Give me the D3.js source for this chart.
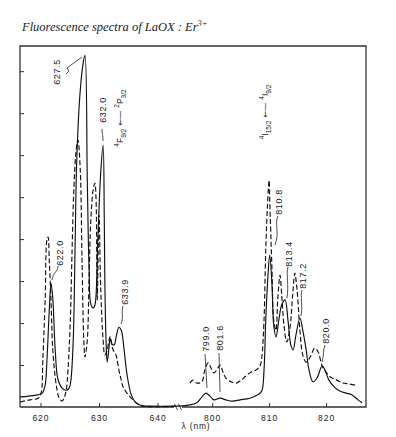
<!DOCTYPE html>
<html>
<head>
<meta charset="utf-8">
<script src="https://cdn.jsdelivr.net/npm/d3@7"></script>
<style>
  body { margin: 0; background: #fff; }
  text { fill: #222; }
</style>
</head>
<body>
<div id="chart"></div>
<script>
// wavelengths (nm) and intensity (arb. units)
var solidRedNm = [616.5, 618, 619.5, 620.3, 620.8, 621.1, 621.5, 621.8, 622.1, 622.5, 623.0, 623.7, 624.4, 624.9, 625.2, 625.6, 625.9, 626.2, 626.8, 627.3, 627.6, 628.0, 628.3, 628.6, 629.0, 629.3, 629.8, 630.3, 630.7, 630.9, 631.0, 631.2, 631.4, 631.7, 631.9, 632.2, 632.6, 632.9, 633.4, 633.8, 634.3, 634.8, 635.5, 636.3, 637.4, 638.7, 643.5];
var solidRedVal = [0.24, 0.26, 0.29, 0.33, 0.52, 1.1, 2.3, 2.95, 2.6, 1.4, 0.65, 0.45, 0.4, 0.45, 0.64, 1.6, 3.7, 5.9, 7.55, 8.2, 8.38, 5.4, 3.3, 2.45, 2.36, 2.43, 4.0, 5.6, 6.24, 4.5, 3.0, 1.6, 1.07, 1.4, 1.64, 1.5, 1.48, 1.65, 1.9, 1.83, 1.35, 0.76, 0.3, 0.1, 0.03, 0.02, 0.02];

var dashRedNm = [616.5, 618.2, 619.6, 620.1, 620.4, 620.8, 621.1, 621.3, 621.5, 621.8, 622.1, 622.7, 623.2, 623.7, 624.0, 624.4, 624.7, 625.1, 625.4, 625.7, 626.1, 626.4, 626.8, 627.1, 627.4, 627.6, 628.0, 628.3, 628.6, 629.0, 629.3, 629.5, 629.7, 630.0, 630.3, 630.7, 631.0, 631.4, 631.9, 632.4, 632.9, 633.4, 633.8, 634.1, 634.9, 635.8, 636.7, 637.5, 643.5];
var dashRedVal = [0.12, 0.17, 0.21, 0.33, 1.12, 2.55, 3.98, 4.05, 3.5, 2.55, 1.36, 0.52, 0.21, 0.14, 0.21, 0.4, 0.88, 2.07, 3.74, 5.17, 6.12, 6.36, 5.64, 3.5, 1.6, 1.19, 1.6, 3.02, 4.45, 5.17, 5.33, 4.93, 2.55, 4.57, 2.8, 1.6, 1.24, 1.36, 1.67, 1.36, 1.24, 0.88, 0.64, 0.48, 0.31, 0.17, 0.07, 0.02, 0.02];

var solidIrNm = [794.0, 796.1, 797.3, 798.2, 798.9, 799.6, 800.3, 801.4, 802.4, 803.5, 804.9, 806.6, 808.0, 808.7, 809.1, 809.4, 809.8, 810.1, 810.5, 810.8, 811.2, 811.7, 812.2, 812.8, 813.3, 813.8, 814.2, 814.7, 815.4, 815.9, 816.5, 817.0, 817.7, 818.4, 819.3, 819.8, 820.5, 821.4, 822.4, 823.5, 824.5, 825.6, 826.3];
var solidIrVal = [0.02, 0.05, 0.1, 0.24, 0.33, 0.26, 0.17, 0.21, 0.17, 0.14, 0.17, 0.21, 0.29, 0.38, 0.88, 2.07, 3.14, 3.62, 2.9, 1.95, 1.67, 2.07, 2.43, 2.55, 2.07, 1.48, 1.36, 1.71, 2.12, 1.83, 1.36, 0.88, 0.6, 0.69, 0.98, 0.88, 0.64, 0.48, 0.38, 0.33, 0.29, 0.17, 0.1];

var dashIrNm = [796.1, 796.6, 797.3, 798.2, 798.7, 799.3, 799.8, 800.3, 801.0, 801.4, 801.9, 802.4, 803.3, 804.2, 805.1, 805.9, 806.8, 807.7, 808.4, 808.7, 809.1, 809.4, 809.8, 810.0, 810.1, 810.5, 810.8, 811.2, 811.5, 811.9, 812.2, 812.6, 813.1, 813.6, 814.2, 814.5, 814.9, 815.4, 815.9, 816.5, 817.2, 818.0, 818.6, 819.3, 820.0, 820.8, 821.9, 822.9, 824.0, 825.1];
var dashIrVal = [0.57, 0.64, 0.57, 0.6, 0.88, 1.05, 0.93, 0.81, 0.93, 1.0, 0.83, 0.69, 0.6, 0.57, 0.64, 0.74, 0.83, 0.88, 0.98, 1.17, 2.07, 3.74, 5.05, 5.4, 4.93, 3.26, 2.07, 1.83, 2.55, 3.14, 2.67, 1.95, 1.55, 1.83, 2.79, 3.19, 2.79, 1.83, 1.24, 1.07, 1.19, 1.4, 1.31, 0.98, 0.83, 0.71, 0.64, 0.57, 0.55, 0.52];

var redTicks = [620, 630, 640];
var irTicks = [800, 810, 820];
var yTicks = [1, 2, 3, 4, 5, 6, 7, 8];

var peakLabels = ["622.0", "627.5", "632.0", "633.9", "799.0", "801.6", "810.8", "813.4", "817.2", "820.0"];

var W = 396, H = 437;
var mLeft = 20, mRight = 366, mTop = 46, mBottom = 407, brk = 178;

var svg = d3.select("#chart").append("svg")
  .attr("width", W).attr("height", H)
  .style("font-family", "'Liberation Sans', Arial, sans-serif");

var xRed = d3.scaleLinear().domain([616.5, 643.5]).range([mLeft, brk]);
var xIr = d3.scaleLinear().domain([794, 827]).range([brk, mRight]);
var y = d3.scaleLinear().domain([0, 8.6]).range([mBottom, mTop]);

// title
var title = svg.append("text")
  .attr("x", 22).attr("y", 31)
  .style("font-family", "'Liberation Serif', 'DejaVu Serif', serif")
  .style("font-style", "italic")
  .style("font-size", "12.5px")
  .text("Fluorescence spectra of LaOX : Er");
title.append("tspan").attr("dy", -5).style("font-size", "8.5px").text("3+");

// frame
svg.append("path")
  .attr("d", "M" + mLeft + "," + mBottom + "V" + mTop + "H" + mRight + "V" + mBottom + "H" + mLeft)
  .attr("fill", "none").attr("stroke", "#333").attr("stroke-width", 1.3);

// axes
var axRed = svg.append("g").attr("transform", "translate(0," + mBottom + ")")
  .call(d3.axisBottom(xRed).tickValues(redTicks).tickSize(-4).tickPadding(8).tickSizeOuter(0));
var axIr = svg.append("g").attr("transform", "translate(0," + mBottom + ")")
  .call(d3.axisBottom(xIr).tickValues(irTicks).tickSize(-4).tickPadding(8).tickSizeOuter(0));
var axY = svg.append("g").attr("transform", "translate(" + mLeft + ",0)")
  .call(d3.axisLeft(y).tickValues(yTicks).tickSize(-4).tickFormat("").tickSizeOuter(0));

[axRed, axIr, axY].forEach(function(a) {
  a.select(".domain").remove();
  a.selectAll("line").attr("stroke", "#333");
  a.selectAll("text")
   .attr("fill", "#222")
   .style("font-size", "8.5px")
   .style("letter-spacing", "1px")
   .style("font-family", "'Liberation Sans', Arial, sans-serif");
});

// axis break
svg.append("rect").attr("x", brk - 4).attr("y", mBottom - 3).attr("width", 8).attr("height", 6).attr("fill", "#fff");
[-2, 2].forEach(function(d) {
  svg.append("line")
    .attr("x1", brk + d - 1.5).attr("y1", mBottom - 3)
    .attr("x2", brk + d + 1.5).attr("y2", mBottom + 3)
    .attr("stroke", "#333").attr("stroke-width", 0.9);
});

svg.append("text")
  .attr("x", 196).attr("y", 429)
  .attr("text-anchor", "middle")
  .style("font-size", "8.5px")
  .style("letter-spacing", "0.8px")
  .text("λ (nm)");

// spectra
function draw(nm, val, x, dashed) {
  var pts = nm.map(function(d, i) { return [d, val[i]]; });
  var line = d3.line()
    .x(function(d) { return x(d[0]); })
    .y(function(d) { return y(d[1]); })
    .curve(d3.curveCatmullRom.alpha(0.5));
  svg.append("path")
    .datum(pts)
    .attr("d", line)
    .attr("fill", "none")
    .attr("stroke", "#111")
    .attr("stroke-width", 1.15)
    .attr("stroke-dasharray", dashed ? "5,2.5" : null);
}
draw(dashRedNm, dashRedVal, xRed, true);
draw(solidRedNm, solidRedVal, xRed, false);
draw(dashIrNm, dashIrVal, xIr, true);
draw(solidIrNm, solidIrVal, xIr, false);

// peak annotations (text position and leader placed by hand)
var labelPos = {
  "622.0": {tx: 59, ty: 253, line: "M58,266 C58,272 53,272 52,280"},
  "627.5": {tx: 56, ty: 72, line: "M66,74 l3,-3 l-2,-3 l4,-3 l11,-8"},
  "632.0": {tx: 102, ty: 110, line: "M102,129 C102,134 103,134 103,141"},
  "633.9": {tx: 124, ty: 292, line: "M123,306 C121,312 124,316 121,324"},
  "799.0": {tx: 205, ty: 339, line: "M205,354 L207,388"},
  "801.6": {tx: 219, ty: 338, line: "M219,353 L220,392"},
  "810.8": {tx: 278, ty: 202, line: "M278,216 C274,224 280,232 275,245"},
  "813.4": {tx: 288, ty: 254, line: "M288,267 C286,275 289,285 287,298"},
  "817.2": {tx: 302, ty: 276, line: "M302,290 C300,297 303,305 301,316"},
  "820.0": {tx: 325, ty: 331, line: "M325,345 C323,350 324,355 322,362"}
};
peakLabels.forEach(function(p) {
  var pos = labelPos[p];
  svg.append("text")
    .attr("transform", "translate(" + (pos.tx + 3.5) + "," + pos.ty + ") rotate(-90)")
    .attr("text-anchor", "middle")
    .style("font-size", "9px")
    .style("letter-spacing", "0.6px")
    .text(p);
  svg.append("path").attr("d", pos.line)
    .attr("fill", "none").attr("stroke", "#222").attr("stroke-width", 0.8);
});

// transition labels
function transition(x, yc, lowerSup, lower, lowerSub, upperSup, upper, upperSub) {
  var t = svg.append("text")
    .attr("transform", "translate(" + x + "," + yc + ") rotate(-90)")
    .attr("text-anchor", "middle")
    .style("font-size", "8.5px");
  t.append("tspan").attr("dy", -4).style("font-size", "6.5px").text(lowerSup);
  t.append("tspan").attr("dy", 4).text(lower);
  t.append("tspan").attr("dy", 3).style("font-size", "6.5px").text(lowerSub);
  t.append("tspan").attr("dy", -3).style("font-family", "'DejaVu Sans', sans-serif").text(" \u2190\u2014 ");
  t.append("tspan").attr("dy", -4).style("font-size", "6.5px").text(upperSup);
  t.append("tspan").attr("dy", 4).text(upper);
  t.append("tspan").attr("dy", 3).style("font-size", "6.5px").text(upperSub);
}
transition(123, 118, "4", "F", "9/2", "2", "P", "3/2");
transition(268, 112, "4", "I", "15/2", "4", "I", "9/2");
</script>
</body>
</html>
